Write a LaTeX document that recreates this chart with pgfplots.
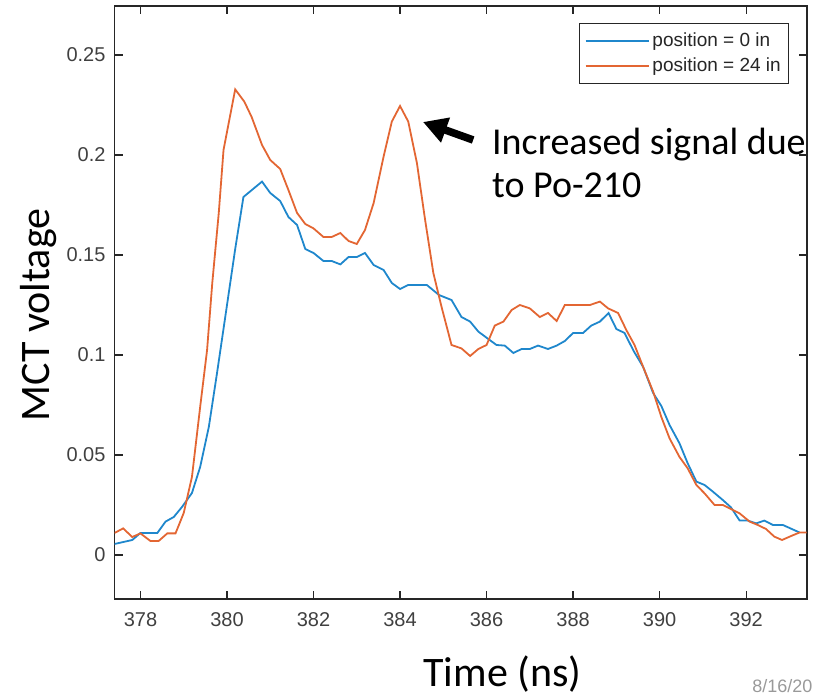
\documentclass[border=0pt]{standalone}
\usepackage{fontspec}
\setmainfont{Carlito}
\newfontfamily\arialf{Liberation Sans}
\usepackage{pgfplots}
\pgfplotsset{compat=1.18}
\usetikzlibrary{arrows.meta}

\definecolor{mblue}{rgb}{0.12,0.53,0.80}
\definecolor{morange}{rgb}{0.89,0.40,0.20}
\definecolor{axisgray}{rgb}{0.15,0.15,0.15}
\definecolor{ticktext}{rgb}{0.25,0.25,0.25}

\begin{document}
\begin{tikzpicture}
% page is 814 x 695 px, 1 px = 0.5 pt
\path[use as bounding box] (0,0) rectangle (407pt,347.5pt);
\begin{axis}[
    at={(57.25pt,48pt)}, anchor=south west,
    scale only axis,
    width=346.1pt, height=296.5pt,
    xmin=377.4, xmax=393.4,
    ymin=-0.022, ymax=0.2745,
    xtick={378,380,...,392},
    ytick={0,0.05,...,0.25},
    scaled y ticks=false,
    yticklabel style={/pgf/number format/fixed, /pgf/number format/precision=2},
    /pgf/number format/assume math mode=true,
    tick label style={font=\arialf\fontsize{10}{12}\selectfont, text=ticktext},
    xticklabel style={yshift=-3pt},
    yticklabel style={xshift=-1pt},
    tick align=inside, xtick pos=both, ytick pos=both,
    major tick length=4pt,
    minor tick num=0,
    axis line style={axisgray, line width=0.8pt},
    every tick/.style={axisgray, line width=0.6pt},
    clip mode=individual,
    legend style={at={(1,1)}, anchor=north east, xshift=-8.7pt, yshift=-8.7pt,
                  font=\arialf\fontsize{9.5}{11}\selectfont, text=axisgray,
                  draw=axisgray, line width=0.5pt, fill=white,
                  inner xsep=2.5pt, inner ysep=3pt, row sep=1pt,
                  nodes={inner sep=1.5pt}},
    legend cell align=left,
    legend image code/.code={\draw[#1] (0pt,0pt) -- (31.5pt,0pt);},
]
\addplot[mblue, line width=0.9pt] coordinates {
(377.40,0.0055)(377.81,0.0075)(378.00,0.011)(378.39,0.011)(378.58,0.0167)
(378.77,0.019)(378.96,0.024)(379.19,0.031)(379.38,0.044)(379.58,0.064)
(379.77,0.091)(379.96,0.119)(380.19,0.153)(380.38,0.179)(380.81,0.1867)
(381.00,0.181)(381.23,0.177)(381.42,0.169)(381.62,0.165)(381.81,0.153)
(382.00,0.151)(382.23,0.147)(382.42,0.147)(382.62,0.1453)(382.81,0.149)
(383.00,0.149)(383.19,0.151)(383.39,0.145)(383.62,0.1425)(383.81,0.136)
(384.00,0.133)(384.19,0.135)(384.40,0.135)(384.62,0.135)(384.90,0.130)
(385.19,0.1275)(385.42,0.119)(385.62,0.1167)(385.81,0.1117)(386.04,0.108)
(386.23,0.105)(386.42,0.1047)(386.62,0.101)(386.81,0.103)(387.00,0.103)
(387.19,0.1047)(387.42,0.103)(387.62,0.1047)(387.81,0.107)(388.00,0.111)
(388.23,0.111)(388.42,0.1147)(388.62,0.1167)(388.82,0.121)(389.00,0.113)
(389.19,0.111)(389.40,0.102)(389.62,0.094)(389.85,0.081)(390.04,0.0745)
(390.23,0.065)(390.46,0.0558)(390.65,0.0458)(390.85,0.0367)(391.04,0.035)
(391.23,0.0317)(391.46,0.0275)(391.65,0.0238)(391.85,0.0172)(392.04,0.0172)
(392.23,0.0158)(392.42,0.0172)(392.62,0.015)(392.85,0.015)(393.23,0.0113)
};
\addlegendentry{position = 0 in}
\addplot[morange, line width=0.9pt] coordinates {
(377.40,0.011)(377.60,0.0133)(377.81,0.009)(378.00,0.0108)(378.23,0.007)
(378.42,0.007)(378.62,0.0108)(378.81,0.0108)(379.00,0.021)(379.19,0.039)
(379.38,0.074)(379.54,0.1025)(379.66,0.136)(379.81,0.171)(379.92,0.2025)
(380.04,0.216)(380.19,0.2328)(380.40,0.2267)(380.57,0.219)(380.81,0.205)
(381.00,0.1975)(381.23,0.193)(381.42,0.1825)(381.62,0.171)(381.81,0.1655)
(382.00,0.1633)(382.23,0.159)(382.42,0.159)(382.62,0.161)(382.81,0.157)
(383.00,0.1555)(383.19,0.1625)(383.39,0.176)(383.62,0.1992)(383.81,0.2167)
(384.00,0.2245)(384.19,0.2167)(384.39,0.196)(384.58,0.1675)(384.77,0.141)
(384.96,0.124)(385.19,0.105)(385.42,0.1033)(385.62,0.0995)(385.81,0.103)
(386.00,0.105)(386.19,0.1147)(386.39,0.1167)(386.58,0.1225)(386.77,0.125)
(387.00,0.1233)(387.23,0.119)(387.42,0.121)(387.62,0.117)(387.81,0.125)
(388.00,0.125)(388.39,0.125)(388.62,0.1267)(388.81,0.1233)(389.04,0.121)
(389.23,0.1125)(389.42,0.105)(389.62,0.094)(389.85,0.0817)(390.04,0.069)
(390.23,0.0583)(390.46,0.049)(390.65,0.0433)(390.85,0.035)(391.04,0.0308)
(391.27,0.025)(391.46,0.025)(391.65,0.023)(391.85,0.0208)(392.08,0.0167)
(392.27,0.015)(392.46,0.013)(392.65,0.0092)(392.83,0.0075)(393.04,0.0095)
(393.23,0.0112)(393.40,0.0112)
};
\addlegendentry{position = 24 in}
% annotation
\draw[black, line width=3.8pt, -{Triangle[length=12pt,width=12.5pt]}]
    (axis cs:385.69,0.2075) -- (axis cs:384.53,0.2165);
\node[anchor=base west, inner sep=0pt, font=\fontsize{19}{22}\selectfont]
    at (axis cs:386.12,0.2) {Increased signal due};
\node[anchor=base west, inner sep=0pt, font=\fontsize{19}{22}\selectfont]
    at (axis cs:386.12,0.1785) {to Po-210};
\end{axis}
\node[anchor=base, rotate=90, inner sep=0pt, font=\fontsize{21}{25}\selectfont]
    at (24.5pt,190pt) {MCT voltage};
\node[anchor=base, inner sep=0pt, font=\fontsize{21}{25}\selectfont]
    at (251.25pt,4pt) {Time (ns)};
\node[anchor=base west, inner sep=0pt, text=gray!80,
      font=\arialf\fontsize{9}{11}\selectfont]
    at (376pt,1pt) {8/16/20};
\end{tikzpicture}
\end{document}
